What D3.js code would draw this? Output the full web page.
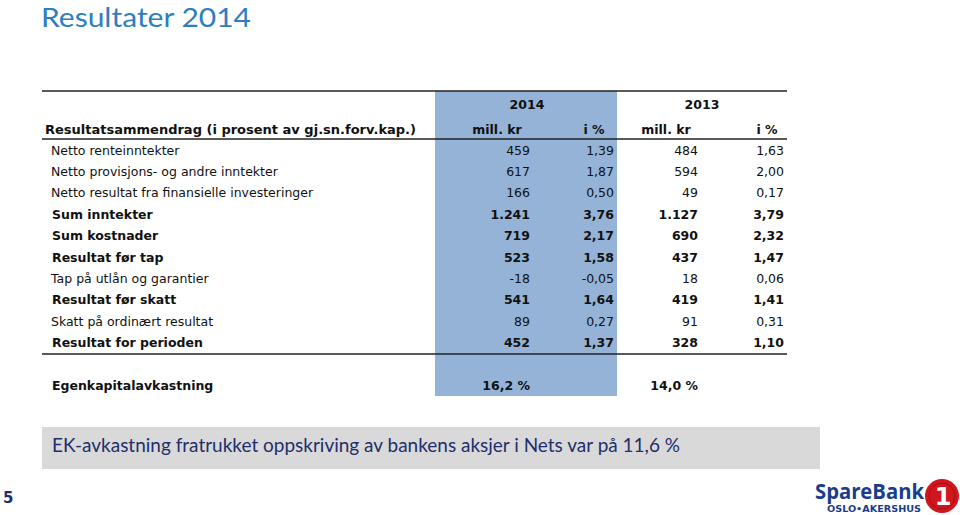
<!DOCTYPE html>
<html><head><meta charset="utf-8">
<script src="https://cdn.jsdelivr.net/npm/d3@7/dist/d3.min.js"></script>
<style>body{margin:0;background:#fff}svg{display:block}</style>
</head><body><svg id="c" width="960" height="515"></svg>
<script>
const title = "Resultater 2014";
const years = ["2014", "2013"];
const headerLabel = "Resultatsammendrag (i prosent av gj.sn.forv.kap.)";
const subHeaders = ["mill. kr", "i %", "mill. kr", "i %"];
const rowLabels = ["Netto renteinntekter","Netto provisjons- og andre inntekter","Netto resultat fra finansielle investeringer","Sum inntekter","Sum kostnader","Resultat før tap","Tap på utlån og garantier","Resultat før skatt","Skatt på ordinært resultat","Resultat for perioden"];
const rowBold = [false,false,false,true,true,true,false,true,false,true];
const mill2014 = ["459","617","166","1.241","719","523","-18","541","89","452"];
const pct2014 = ["1,39","1,87","0,50","3,76","2,17","1,58","-0,05","1,64","0,27","1,37"];
const mill2013 = ["484","594","49","1.127","690","437","18","419","91","328"];
const pct2013 = ["1,63","2,00","0,17","3,79","2,32","1,47","0,06","1,41","0,31","1,10"];
const ekLabel = "Egenkapitalavkastning";
const ekValues = ["16,2 %", "14,0 %"];
const note = "EK-avkastning fratrukket oppskriving av bankens aksjer i Nets var på 11,6 %";
const pageNo = "5";

const svg = d3.select("#c");
const F = "DejaVu Sans, Verdana, sans-serif";
const TF = "Lato, 'Open Sans', sans-serif";

const colX = d3.scaleOrdinal().domain(["m14","p14","m13","p13"]).range([530, 614, 698, 784]);
const rowY = d3.scaleBand().domain(d3.range(rowLabels.length)).range([139, 353]).paddingInner(0);

// title
svg.append("text").attr("x", 41).attr("y", 26.5).attr("font-family", TF).attr("font-size", 26.5)
  .attr("textLength", 210).attr("lengthAdjust", "spacingAndGlyphs")
  .attr("fill", "#2E7EBF").text(title);

// blue highlighted column
svg.append("rect").attr("x", 435).attr("y", 91).attr("width", 182).attr("height", 305).attr("fill", "#95B3D7");

// lines
[91, 139, 354].forEach(y => svg.append("line").attr("x1", 42).attr("x2", 787).attr("y1", y).attr("y2", y)
  .attr("stroke", "#222").attr("stroke-width", 1.3));

// year headers
svg.selectAll(".yr").data(years).join("text").attr("class","yr")
  .attr("x", (d,i) => i === 0 ? 527 : 702).attr("y", 109).attr("text-anchor","middle")
  .attr("font-family", F).attr("font-size", 12.5).attr("font-weight","bold").attr("fill","#111").text(d => d);

svg.append("text").attr("x", 45).attr("y", 134).attr("font-family", F).attr("font-size", 13)
  .attr("textLength", 371).attr("lengthAdjust", "spacing")
  .attr("font-weight","bold").attr("fill","#111").text(headerLabel);

const subX = [497, 594, 666, 767];
svg.selectAll(".sub").data(subHeaders).join("text").attr("class","sub")
  .attr("x", (d,i) => subX[i]).attr("y", 134).attr("text-anchor","middle")
  .attr("font-family", F).attr("font-size", 12.5).attr("font-weight","bold").attr("fill","#111").text(d => d);

// rows
const rows = rowLabels.map((l, i) => ({l, b: rowBold[i], v: [mill2014[i], pct2014[i], mill2013[i], pct2013[i]]}));
const g = svg.selectAll(".row").data(rows).join("g").attr("class","row")
  .attr("transform", (d,i) => `translate(0,${rowY(i) + rowY.bandwidth()/2 + 4.8})`);
g.append("text").attr("x", d => d.b ? 52 : 51).attr("font-family", F).attr("font-size", 12.5)
  .attr("font-weight", d => d.b ? "bold" : "normal").attr("fill","#111").text(d => d.l);
g.each(function(d){
  d3.select(this).selectAll(".v").data(d.v).join("text").attr("class","v")
    .attr("x", (v,j) => colX(colX.domain()[j])).attr("text-anchor","end")
    .attr("font-family", F).attr("font-size", 12.5).attr("font-weight", d.b ? "bold" : "normal")
    .attr("fill","#111").text(v => v);
});

// EK row
svg.append("text").attr("x", 52).attr("y", 390).attr("font-family", F).attr("font-size", 12.5)
  .attr("font-weight","bold").attr("fill","#111").text(ekLabel);
svg.selectAll(".ek").data(ekValues).join("text").attr("class","ek")
  .attr("x", (d,i) => i === 0 ? 530 : 698).attr("y", 390).attr("text-anchor","end")
  .attr("font-family", F).attr("font-size", 12.5).attr("font-weight","bold").attr("fill","#111").text(d => d);

// note box
svg.append("rect").attr("x", 42).attr("y", 427).attr("width", 778).attr("height", 42).attr("fill", "#D9D9D9");
svg.append("text").attr("x", 52).attr("y", 452).attr("font-family", TF).attr("font-size", 19.5)
  .attr("textLength", 628).attr("lengthAdjust", "spacingAndGlyphs")
  .attr("fill", "#1F2F6B").text(note);

// page number
svg.append("text").attr("x", 3).attr("y", 503).attr("font-family", F).attr("font-size", 15)
  .attr("font-weight","bold").attr("fill","#1F2F6B").text(pageNo);

// logo
svg.append("text").attr("x", 815).attr("y", 499).attr("font-family", "'Open Sans', sans-serif").attr("font-size", 22)
  .attr("font-weight","bold").attr("textLength", 109).attr("lengthAdjust", "spacingAndGlyphs")
  .attr("fill", "#1B3C8C").text("SpareBank");
svg.append("text").attr("x", 827).attr("y", 512).attr("font-family", F).attr("font-size", 8)
  .attr("font-weight","bold").attr("textLength", 94).attr("lengthAdjust", "spacingAndGlyphs")
  .attr("fill", "#1B3C8C").text("OSLO•AKERSHUS");
svg.append("circle").attr("cx", 942).attr("cy", 496).attr("r", 17).attr("fill", "#D0161E");
svg.append("circle").attr("cx", 942).attr("cy", 496).attr("r", 13).attr("fill", "none").attr("stroke","#A50F15").attr("stroke-width",1);
svg.append("text").attr("x", 943).attr("y", 505).attr("text-anchor","middle").attr("font-family", F).attr("font-size", 24)
  .attr("font-weight","bold").attr("fill", "#fff").text("1");
</script></body></html>
